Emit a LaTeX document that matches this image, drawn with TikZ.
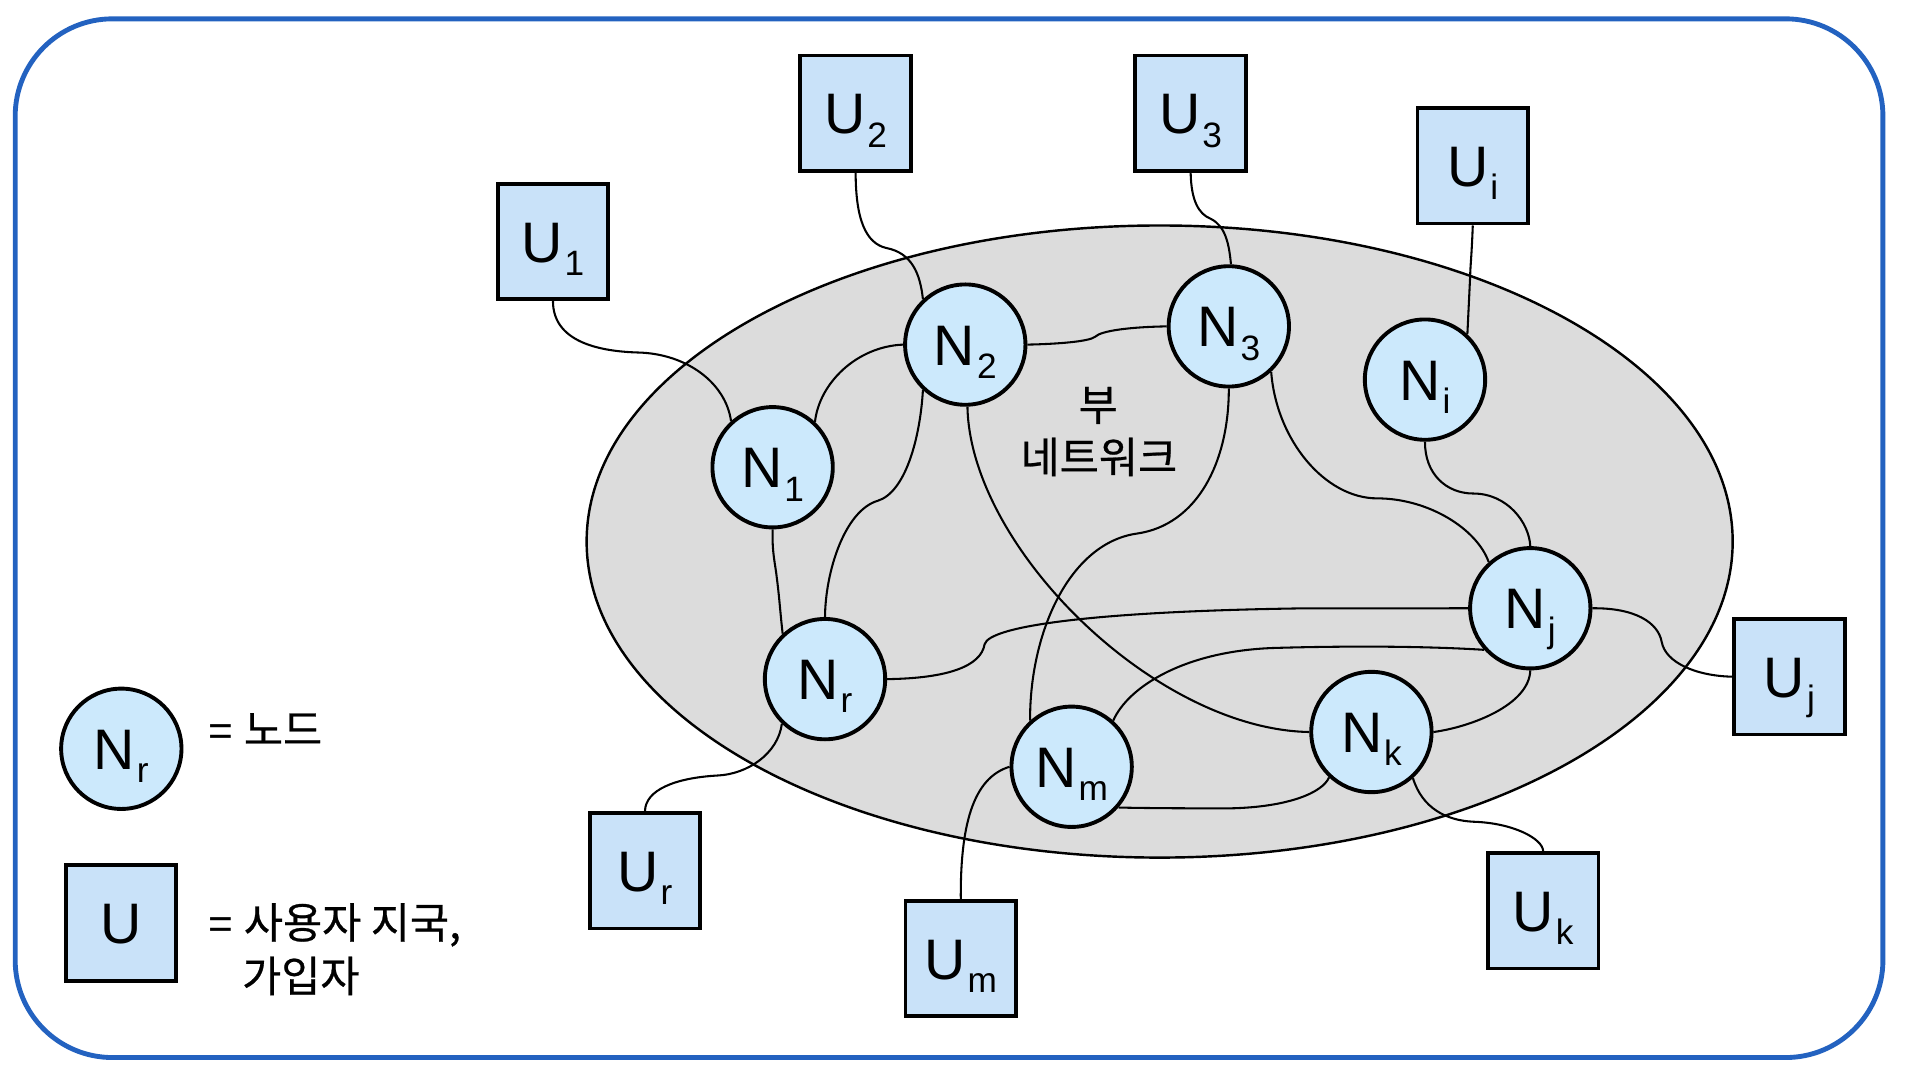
\documentclass[tikz,border=0pt]{standalone}
\usepackage{fontspec}
\setmainfont{Liberation Sans}
\newfontfamily\krfont[FakeBold=0.6]{Noto Sans CJK KR}
\definecolor{nodefill}{RGB}{204,233,252}
\definecolor{boxfill}{RGB}{201,226,249}
\definecolor{netgrey}{RGB}{220,220,220}
\definecolor{frameblue}{RGB}{35,98,192}
\pgfdeclarelayer{back}
\pgfdeclarelayer{wires}
\pgfsetlayers{back,wires,main}
\newcommand\lbl[2]{#1\kern1.5pt\raisebox{-11pt}{\fontsize{29}{29}\selectfont #2}}
\begin{document}
\begin{tikzpicture}[x=1pt,y=-1pt,
  netnode/.style={circle,draw=black,line width=3.2pt,fill=nodefill,minimum size=99pt,inner sep=0pt,
     text height=33.7pt,text depth=0pt,font=\fontsize{47}{50}\selectfont},
  userbox/.style={rectangle,draw=black,line width=3.2pt,fill=boxfill,minimum width=91pt,minimum height=95pt,inner sep=0pt,
     text height=33.7pt,text depth=0pt,font=\fontsize{47}{50}\selectfont},
  wire/.style={draw=black,line width=1.7pt},
  krtext/.style={inner sep=0pt,font=\krfont\fontsize{35}{44}\selectfont},
]
\useasboundingbox (0,0) rectangle (1568,882);
\begin{pgfonlayer}{back}
\draw[frameblue,line width=4pt,rounded corners=80pt] (12.5,15.5) rectangle (1549,870);
\draw[fill=netgrey,line width=2pt] (954,445.5) ellipse [x radius=471.4pt,y radius=260pt];
\end{pgfonlayer}

% network nodes
\node[netnode] (N1) at (635.6,384.4) {\lbl{N}{1}};
\node[netnode] (N2) at (794.1,283.5) {\lbl{N}{2}};
\node[netnode] (N3) at (1010.9,268.5) {\lbl{N}{3}};
\node[netnode] (Ni) at (1172.3,312.3) {\lbl{N}{i}};
\node[netnode] (Nj) at (1258.9,500.4) {\lbl{N}{j}};
\node[netnode] (Nk) at (1128.2,602.2) {\lbl{N}{k}};
\node[netnode] (Nm) at (881.6,630.8) {\lbl{N}{m}};
\node[netnode] (Nr) at (678.7,558.7) {\lbl{N}{r}};

% user stations
\node[userbox] (U1) at (454.9,198.7) {\lbl{U}{1}};
\node[userbox] (U2) at (703.9,93.2) {\lbl{U}{2}};
\node[userbox] (U3) at (979.5,93.2) {\lbl{U}{3}};
\node[userbox] (Ui) at (1211.6,136.4) {\lbl{U}{i}};
\node[userbox] (Uj) at (1472.1,556.7) {\lbl{U}{j}};
\node[userbox] (Uk) at (1269.5,749.2) {\lbl{U}{k}};
\node[userbox] (Um) at (790.4,788.6) {\lbl{U}{m}};
\node[userbox] (Ur) at (530.6,716.3) {\lbl{U}{r}};

% subnetwork label
\node[krtext,anchor=base] (sub1) at (903.5,346) {부};
\node[krtext,anchor=base] (sub2) at (904,389) {네트워크};

% legend
\node[netnode] (LN) at (99.8,616) {\lbl{N}{r}};
\node[userbox] (LU) at (99.5,759.2) {U};
\node[krtext,anchor=base west] (LNt) at (171,613) {{\rmfamily =}\kern9pt 노드};
\node[krtext,anchor=base west] (LUt) at (171,772) {{\rmfamily =}\kern9pt 사용자 지국,};
\node[krtext,anchor=base west] (LUt2) at (199,816) {가입자};

\begin{pgfonlayer}{wires}
\draw[wire] (U1.south) .. controls (455,280) and (490,289) .. (525,290) .. controls (565,291) and (597,315) .. (N1.132);
\draw[wire] (U2.south) .. controls (704,180) and (712,200) .. (729,204) .. controls (750,208) and (757,225) .. (N2.133);
\draw[wire] (U3.south) .. controls (980,165) and (986,176) .. (996,180) .. controls (1008,186) and (1011,200) .. (N3.88);
\draw[wire] (Ui.south) .. controls (1210.6,212) and (1209.6,218) .. (1209.4,228) -- (Ni.47);
\draw[wire] (N2.east) .. controls (870,283) and (896,281) .. (901,277) .. controls (906,272) and (930,269) .. (N3.west);
\draw[wire] (N1.47) .. controls (674,315) and (705,285) .. (N2.west);
\draw[wire] (N1.south) .. controls (635,455) and (638,465) .. (639,475) .. controls (641,490) and (642,505) .. (Nr.133);
\draw[wire] (N2.227) .. controls (757,360) and (745,405) .. (722,412) .. controls (695,420) and (679,470) .. (Nr.north);
\draw[wire] (N2.-88) .. controls (798,450) and (950,600) .. (Nk.west);
\draw[wire] (N3.south) .. controls (1011,380) and (985,432) .. (935,439) .. controls (880,447) and (847,520) .. (Nm.132);
\draw[wire] (N3.-47) .. controls (1050,362) and (1090,410) .. (1133,410) .. controls (1175,410) and (1215,435) .. (Nj.132);
\draw[wire] (Ni.south) .. controls (1172,390) and (1190,406) .. (1212,406) .. controls (1240,406) and (1258,430) .. (Nj.north);
\draw[wire] (Nr.east) .. controls (780,558) and (807,548) .. (810,530) .. controls (814,515) and (900,503) .. (1070,500.5) -- (Nj.west);
\draw[wire] (Nm.48) .. controls (928,565) and (975,535) .. (1050,533) .. controls (1120,531) and (1180,532) .. (Nj.222);
\draw[wire] (Nm.-41) .. controls (950,665) and (990,665) .. (1012,665) .. controls (1060,664) and (1088,652) .. (Nk.227);
\draw[wire] (Nk.east) .. controls (1210,598) and (1258,580) .. (Nj.south);
\draw[wire] (Nj.east) .. controls (1345,500) and (1364,512) .. (1367,528) .. controls (1370,545) and (1395,556) .. (Uj.west);
\draw[wire] (Nk.-48) .. controls (1170,665) and (1190,675) .. (1212,676) .. controls (1245,677) and (1269,690) .. (Uk.north);
\draw[wire] (Nm.west) .. controls (800,640) and (790,680) .. (Um.north);
\draw[wire] (Nr.226) .. controls (640,620) and (615,637) .. (590,638) .. controls (555,640) and (531,650) .. (Ur.north);
\end{pgfonlayer}
\end{tikzpicture}
\end{document}
